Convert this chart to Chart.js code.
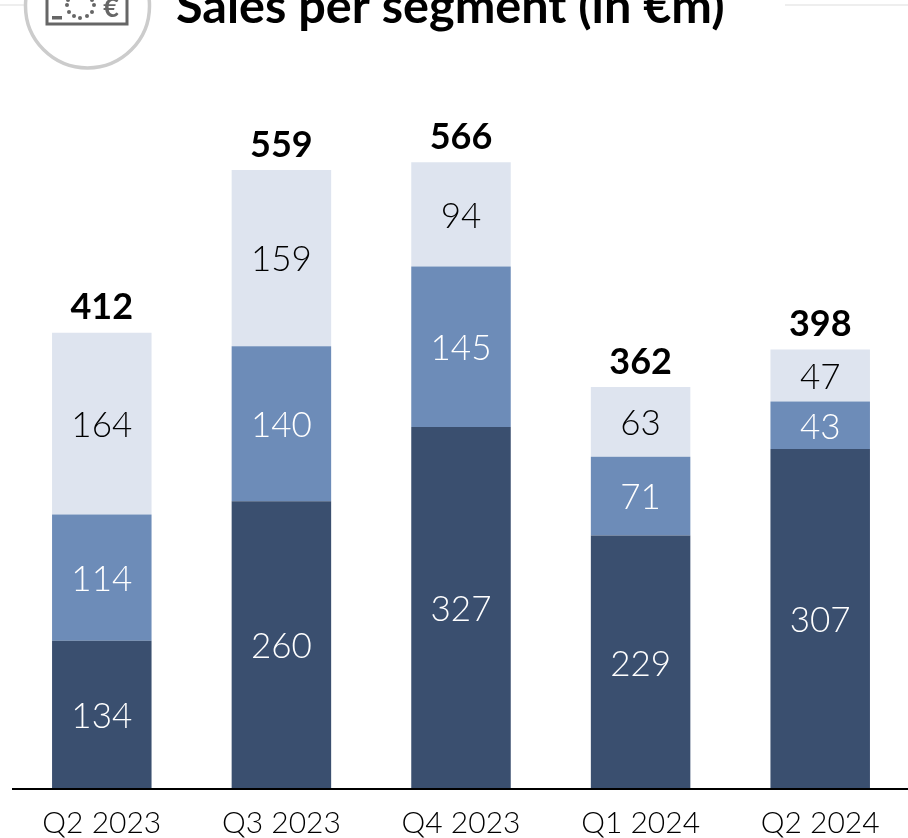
<!DOCTYPE html>
<html><head><meta charset="utf-8">
<style>html,body{margin:0;padding:0;background:#fff;overflow:hidden;width:908px;height:838px}
#w{position:absolute;left:0;top:0;width:920px;height:838px}</style>
<script src="https://cdn.jsdelivr.net/npm/chart.js@4/dist/chart.umd.min.js"></script>
</head><body><div id="w"><canvas id="c" width="920" height="838"></canvas></div>
<script>
const categories=['Q2 2023','Q3 2023','Q4 2023','Q1 2024','Q2 2024'];
const segmentA=[134,260,327,229,307];
const segmentB=[114,140,145,71,43];
const segmentC=[164,159,94,63,47];
const totals=[412,559,566,362,398];
const titleText='Sales per segment (in €m)';
const FONT='Lato';
const decor={id:'decor',afterDraw(ch){
  const x=ch.ctx;x.save();
  x.strokeStyle='#eeeeee';x.lineWidth=2;
  x.beginPath();x.moveTo(0,5);x.lineTo(26,5);x.moveTo(785,5);x.lineTo(908,5);x.stroke();
  x.strokeStyle='#cccccc';x.lineWidth=3.5;
  x.beginPath();x.arc(87.5,6,62,0,Math.PI*2);x.stroke();
  x.strokeStyle='#666';x.lineWidth=3;
  x.beginPath();x.moveTo(47,-4);x.lineTo(47,24);x.lineTo(127,24);x.lineTo(127,-4);x.stroke();
  x.fillStyle='#666';
  x.fillRect(52,16,10,3.5);
  x.font='bold 27px "'+FONT+'"';x.textAlign='center';x.textBaseline='alphabetic';x.fillText('€',111,17);
  [[68,0],[67,5],[69,12],[74,16],[80,18],[87,16],[92,12],[94,5],[92,0]].forEach(p=>{x.beginPath();x.arc(p[0],p[1],2,0,7);x.fill();});
  x.fillStyle='#000';x.textAlign='left';x.font='bold 48.6px "'+FONT+'"';
  x.fillText(titleText,176,23);
  x.strokeStyle='#000';x.lineWidth=2;x.beginPath();x.moveTo(12,789);x.lineTo(908,789);x.stroke();
  const m=ch.getDatasetMeta(2);
  x.textAlign='center';x.textBaseline='middle';
  ch.data.datasets.forEach((d,i)=>{
    ch.getDatasetMeta(i).data.forEach((b,j)=>{
      x.fillStyle=i==2?'#000':'#fff';x.font='300 35px "'+FONT+'"';
      x.fillText(String(d.data[j]),b.x,(b.y+b.base)/2+2);
    });
  });
  m.data.forEach((b,j)=>{x.fillStyle='#000';x.font='bold 36px "'+FONT+'"';x.fillText(String(totals[j]),b.x,b.y-25);});
  x.restore();
}};
new Chart(document.getElementById('c'),{type:'bar',
 data:{labels:categories,datasets:[
  {label:'A',data:segmentA,backgroundColor:'#3a4f6f'},
  {label:'B',data:segmentB,backgroundColor:'#6d8cb8'},
  {label:'C',data:segmentC,backgroundColor:'#dee4ef'}]},
 options:{responsive:false,animation:false,
  layout:{padding:{left:12,right:10,top:14,bottom:0}},
  plugins:{legend:{display:false},title:{display:false},tooltip:{enabled:false}},
  datasets:{bar:{barPercentage:0.554,categoryPercentage:1}},
  scales:{
   x:{stacked:true,grid:{display:false},border:{display:false},
      afterFit(s){s.height=49;},
      ticks:{color:'#000',font:{family:FONT,size:30,weight:'300'},padding:8,maxRotation:0}},
   y:{stacked:true,display:false,min:0,max:700}
  }},plugins:[decor]});
</script></body></html>
